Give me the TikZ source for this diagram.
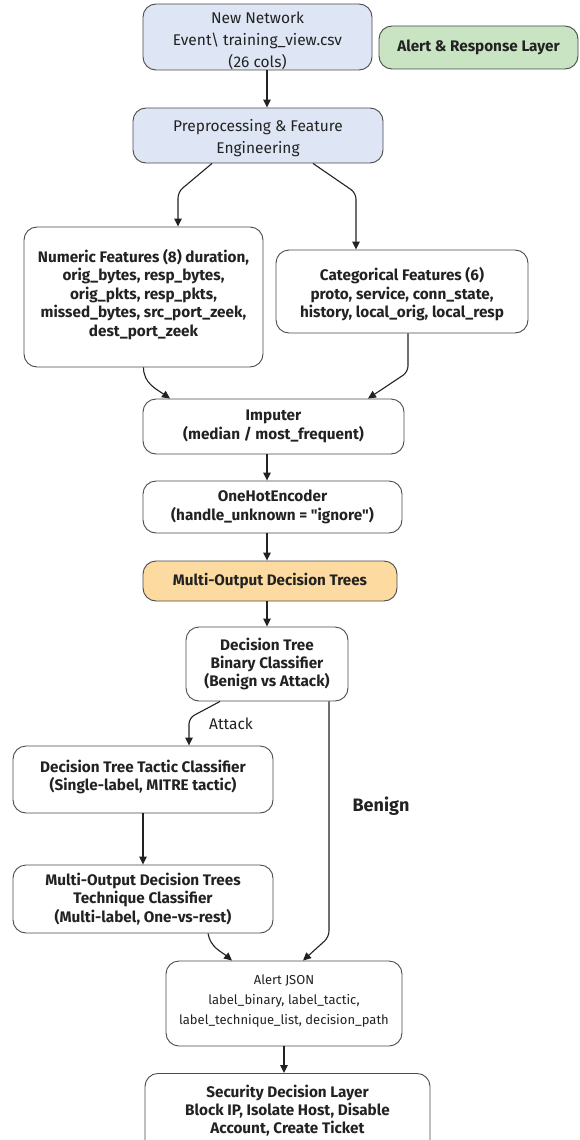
\documentclass[tikz,border=0pt]{standalone}
\usepackage{fontspec}
\setmainfont{Fira Sans}[Ligatures=TeXOff]
\usetikzlibrary{arrows.meta}

\definecolor{edge}{HTML}{4A4A4A}
\definecolor{ink}{HTML}{222222}
\definecolor{inblue}{HTML}{DEE6F5}
\definecolor{ingreen}{HTML}{C8E4C3}
\definecolor{inorange}{HTML}{FDDBA0}

% taller first line, pushes a text block down inside its box
\newcommand{\lead}[1]{\rule{0pt}{#1}}

\tikzset{
  box/.style={draw=edge, line width=0.9pt, rounded corners=13pt, align=center,
    text=ink, inner sep=0pt, fill=white,
    font=\fontsize{15.3}{18.4}\selectfont\bfseries},
  topbox/.style={box, fill=inblue, font=\fontsize{15.5}{21.7}\selectfont},
  lightbox/.style={box, font=\fontsize{13}{20}\selectfont},
  arr/.style={draw=ink, line width=1.1pt, -{Triangle[length=8pt,width=7.5pt]}},
  branch/.style={text=ink, inner sep=0pt},
}

\begin{document}
\begin{tikzpicture}[x=1pt,y=-1pt]
\clip (0,0) rectangle (579,1140);
\fill[white] (0,0) rectangle (579,1140);

% input and preprocessing
\node[topbox, minimum width=229pt, minimum height=66pt] (src) at (257.5,37)
  {\lead{19.5pt}New Network\\Event\textbackslash{} training\_view.csv\\(26 cols)};
\node[box, fill=ingreen, minimum width=199pt, minimum height=43pt,
  font=\fontsize{15.3}{18}\selectfont\bfseries] (legend) at (478.5,47.5)
  {Alert \& Response Layer};
\node[topbox, minimum width=250pt, minimum height=55pt] (pre) at (258,135.5)
  {\lead{17.5pt}Preprocessing \& Feature\\Engineering};

% feature groups
\node[box, minimum width=239pt, minimum height=140pt] (num) at (143.5,297)
  {Numeric Features (8) duration,\\orig\_bytes, resp\_bytes,\\orig\_pkts, resp\_pkts,\\missed\_bytes, src\_port\_zeek,\\dest\_port\_zeek\\[-10pt]};
\node[box, minimum width=252pt, minimum height=83pt] (cat) at (402,291.5)
  {\lead{18.5pt}Categorical Features (6)\\proto, service, conn\_state,\\history, local\_orig, local\_resp};

% pipeline
\node[box, minimum width=261pt, minimum height=55pt] (imp) at (273.5,426.5)
  {Imputer\\(median / most\_frequent)};
\node[box, minimum width=259pt, minimum height=52pt] (ohe) at (272.5,507)
  {OneHotEncoder\\(handle\_unknown = "ignore")};
\node[box, fill=inorange, minimum width=254pt, minimum height=40pt,
  font=\fontsize{15.2}{18}\selectfont\bfseries] (mod) at (270,581)
  {Multi-Output Decision Trees};

% classifiers
\node[box, minimum width=162pt, minimum height=74pt] (bin) at (267,664)
  {Decision Tree\\Binary Classifier\\(Benign vs Attack)};
\node[box, minimum width=260pt, minimum height=67pt] (tac) at (143,779.5)
  {Decision Tree Tactic Classifier\\(Single-label, MITRE tactic)\\[-10pt]};
\node[box, minimum width=260pt, minimum height=68pt] (tec) at (143,899)
  {Multi-Output Decision Trees\\Technique Classifier\\(Multi-label, One-vs-rest)};

% outputs
\node[lightbox, minimum width=236pt, minimum height=85pt] (json) at (284,1003.5)
  {Alert JSON\\label\_binary, label\_tactic,\\label\_technique\_list, decision\_path\\[-12pt]};
\node[box, minimum width=285pt, minimum height=80pt, anchor=north] (sec) at (287.5,1073)
  {Security Decision Layer\\Block IP, Isolate Host, Disable\\Account, Create Ticket\\[-10pt]};

% connectors
\draw[arr] (src.south -| bin.north) -- (pre.north -| bin.north);
\draw[arr, rounded corners=6pt] ([xshift=-46pt]pre.south) -- (178,192) -- ([xshift=34.5pt]num.north);
\draw[arr, rounded corners=6pt] ([xshift=55pt]pre.south) -- (356,193) -- ([xshift=-46pt]cat.north);
\draw[arr] (num.south) to[out=-90, in=145] ([xshift=-103.5pt]imp.north);
\draw[arr, rounded corners=6pt] ([xshift=6pt]cat.south) -- (408,372) -- ([xshift=94.5pt]imp.north);
\draw[arr] (imp.south -| bin.north) -- (ohe.north -| bin.north);
\draw[arr] (ohe.south -| bin.north) -- (mod.north -| bin.north);
\draw[arr] (mod.south -| bin.north) -- (bin.north);
\draw[arr, rounded corners=6pt] ([xshift=-47pt]bin.south) -- (189,718) -- ([xshift=46pt]tac.north);
\draw[arr, rounded corners=6pt] ([xshift=62pt]bin.south) -- (329,937) -- ([xshift=19pt]json.north);
\draw[arr] (tac.south) -- (tec.north);
\draw[arr] ([xshift=65pt]tec.south) to[out=-80, in=140] ([xshift=-52pt]json.north);
\draw[arr] (json.south) -- (json.south |- sec.north);

% branch labels
\node[branch, font=\fontsize{15.5}{18}\selectfont] (attack) at (231,724) {Attack};
\node[branch, font=\fontsize{18}{20}\selectfont\bfseries] (benign) at (381,806) {Benign};
\end{tikzpicture}
\end{document}
